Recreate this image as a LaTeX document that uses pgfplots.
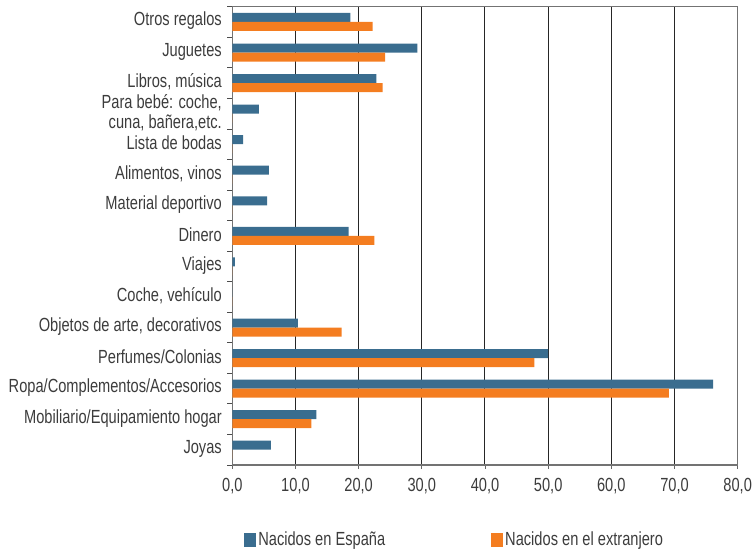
\documentclass[border=0pt]{standalone}
\usepackage{fontspec}
\setmainfont{Liberation Sans}[FakeStretch=0.77]
\usepackage{pgfplots}
\pgfplotsset{compat=1.18}
\definecolor{cblue}{RGB}{58,109,143}
\definecolor{corange}{RGB}{244,125,32}
\definecolor{ctext}{RGB}{60,60,60}
\begin{document}
\begin{tikzpicture}
\begin{axis}[
  name=ax,
  scale only axis,
  width=505.4pt, height=458.3pt,
  xbar, bar width=9pt,
  xmin=0, xmax=80,
  ymin=-0.5, ymax=14.5,
  xtick={0,10,...,80},
  xticklabels={{0,0},{10,0},{20,0},{30,0},{40,0},{50,0},{60,0},{70,0},{80,0}},
  ytick={0,...,14},
  yticklabels={Joyas,Mobiliario/Equipamiento hogar,Ropa/Complementos/Accesorios,Perfumes/Colonias,{Objetos de arte, decorativos},{Coche, vehículo},Viajes,Dinero,Material deportivo,{Alimentos, vinos},Lista de bodas,{Para bebé: coche,\\cuna, bañera,etc.},{Libros, música},Juguetes,Otros regalos},
  minor ytick={-0.5,0.5,...,14.5},
  major y tick style={draw=none},
  minor y tick style={black!70, line width=0.8pt},
  minor tick length=5pt,
  major x tick style={black!60, line width=0.8pt},
  major tick length=4pt,
  tick align=outside,
  tick pos=left,
  xmajorgrids,
  major x grid style={black!85, line width=1pt},
  axis line style={black!55, line width=1.2pt},
  tick label style={font=\fontsize{19}{20}\selectfont, text=ctext},
  yticklabel style={align=right, xshift=-3pt, yshift=1pt},
  xticklabel style={yshift=-6pt},
  legend style={at={(0.44,-0.163)}, anchor=center, draw=none, fill=none,
    font=\fontsize{19}{20}\selectfont, text=ctext,
    legend columns=2,
    /tikz/every even column/.append style={column sep=104pt}},
  legend image code/.code={\fill[#1] (0pt,-7pt) rectangle (12pt,7pt);},
]
\addplot[fill=cblue, draw=none, bar shift=4.5pt] coordinates {
 (6.1,0) (13.3,1) (76.1,2) (50.0,3) (10.4,4) (0,5) (0.4,6) (18.4,7)
 (5.5,8) (5.8,9) (1.7,10) (4.2,11) (22.8,12) (29.3,13) (18.7,14)};
\addplot[fill=corange, draw=none, bar shift=-4.5pt] coordinates {
 (0,0) (12.5,1) (69.1,2) (47.8,3) (17.3,4) (0,5) (0,6) (22.5,7)
 (0,8) (0,9) (0,10) (0,11) (23.8,12) (24.2,13) (22.2,14)};
\legend{Nacidos en España, Nacidos en el extranjero}
\end{axis}
\pgfresetboundingbox
\path ([shift={(-232.3pt,-89pt)}]ax.south west) rectangle ([shift={(523.7pt,465pt)}]ax.south west);
\end{tikzpicture}
\end{document}
